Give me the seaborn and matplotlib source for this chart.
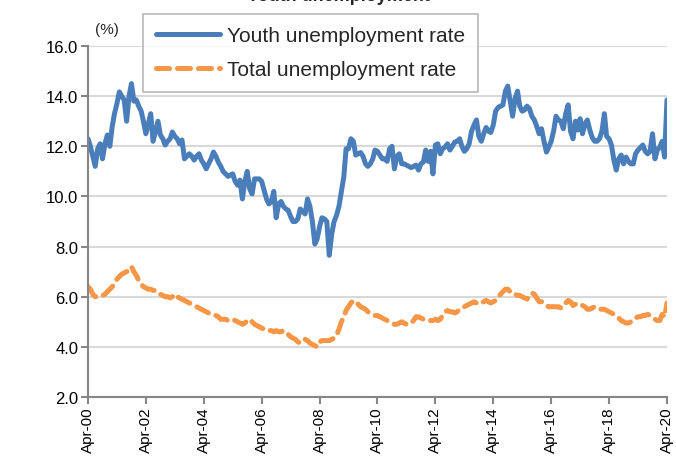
import pandas as pd
import numpy as np
import matplotlib
matplotlib.use("Agg")
import matplotlib.pyplot as plt
import matplotlib.dates as mdates
import seaborn as sns

# Monthly series, Apr-2000 .. Apr-2020 (one row per year, Apr..Mar)
youth = [
    12.3, 12.0, 11.6, 11.2, 11.9, 12.1, 11.5, 12.1, 12.45, 12.0, 12.8, 13.3,
    13.7, 14.17, 14.0, 13.85, 13.0, 14.0, 14.5, 13.8, 13.85, 13.6, 13.4, 13.0,
    12.5, 12.9, 13.3, 12.2, 12.6, 13.0, 12.45, 12.3, 12.05, 12.2, 12.3, 12.57,
    12.4, 12.3, 12.1, 12.25, 11.5, 11.6, 11.7, 11.6, 11.45, 11.6, 11.7, 11.45,
    11.3, 11.1, 11.3, 11.5, 11.77, 11.6, 11.37, 11.2, 11.0, 10.9, 10.8, 10.85,
    10.9, 10.6, 10.45, 10.65, 9.9, 10.6, 11.0, 10.3, 10.1, 10.7, 10.7, 10.7,
    10.6, 10.25, 9.9, 9.7, 9.8, 10.2, 9.15, 9.7, 9.8, 9.6, 9.5, 9.45,
    9.2, 9.0, 9.0, 9.1, 9.5, 9.4, 9.3, 9.9, 9.6, 9.0, 8.1, 8.3,
    8.8, 9.15, 9.1, 9.0, 7.65, 8.5, 9.0, 9.25, 9.6, 10.2, 10.8, 11.9,
    11.9, 12.3, 12.2, 11.65, 11.7, 11.75, 11.6, 11.3, 11.2, 11.3, 11.5, 11.85,
    11.8, 11.65, 11.5, 11.5, 11.4, 11.9, 12.0, 11.1, 11.6, 11.7, 11.3, 11.3,
    11.25, 11.2, 11.15, 11.2, 11.25, 11.05, 11.3, 11.37, 11.85, 11.4, 11.8, 10.9,
    12.05, 12.1, 11.7, 11.9, 11.97, 12.1, 11.85, 12.0, 12.17, 12.2, 12.3, 12.0,
    11.8, 11.9, 12.1, 12.6, 12.85, 13.05, 12.4, 12.2, 12.5, 12.75, 12.6, 12.55,
    12.85, 13.4, 13.55, 13.6, 13.65, 14.2, 14.4, 13.8, 13.2, 13.9, 14.2, 13.6,
    13.4, 13.45, 13.6, 13.5, 13.2, 13.05, 12.8, 12.5, 12.7, 12.2, 11.77, 11.97,
    12.2, 12.6, 13.2, 13.05, 13.0, 12.7, 13.3, 13.65, 12.6, 12.3, 13.0, 12.65,
    13.1, 12.5, 12.9, 13.05, 12.65, 12.35, 12.2, 12.2, 12.3, 12.6, 13.3, 12.4,
    12.3, 12.05, 11.45, 11.05, 11.5, 11.65, 11.3, 11.57, 11.4, 11.3, 11.3, 11.7,
    11.85, 11.95, 12.05, 11.8, 11.7, 11.8, 12.5, 11.5, 11.85, 11.97, 12.2, 11.57,
    13.85,
]

total = [
    6.4, 6.3, 6.1, 6.0, 6.0, 6.05, 6.05, 6.1, 6.2, 6.3, 6.4, 6.5,
    6.7, 6.8, 6.9, 6.95, 7.0, 7.05, 7.2, 7.0, 6.85, 6.65, 6.5, 6.4,
    6.35, 6.3, 6.3, 6.25, 6.25, 6.2, 6.1, 6.05, 6.0, 6.0, 5.95, 6.0,
    6.1, 6.0, 5.95, 5.9, 5.85, 5.8, 5.75, 5.7, 5.65, 5.6, 5.55, 5.5,
    5.45, 5.4, 5.35, 5.3, 5.25, 5.25, 5.2, 5.1, 5.1, 5.1, 5.05, 5.1,
    5.1, 5.05, 5.0, 4.95, 4.9, 4.95, 5.05, 5.1, 5.0, 4.9, 4.85, 4.8,
    4.75, 4.7, 4.7, 4.65, 4.65, 4.6, 4.65, 4.6, 4.6, 4.65, 4.6, 4.5,
    4.4, 4.35, 4.3, 4.2, 4.15, 4.2, 4.3, 4.25, 4.15, 4.1, 4.05, 4.0,
    4.2, 4.25, 4.25, 4.25, 4.25, 4.3, 4.35, 4.45, 4.7, 5.0, 5.2, 5.45,
    5.6, 5.75, 5.85, 5.8, 5.7, 5.6, 5.55, 5.5, 5.4, 5.35, 5.3, 5.25,
    5.25, 5.2, 5.15, 5.1, 5.05, 5.0, 4.95, 4.9, 4.9, 4.95, 5.0, 4.95,
    4.9, 4.9, 4.95, 5.05, 5.2, 5.2, 5.15, 5.1, 5.1, 5.05, 5.05, 5.05,
    5.1, 5.05, 5.1, 5.25, 5.4, 5.45, 5.4, 5.4, 5.35, 5.4, 5.5, 5.55,
    5.6, 5.65, 5.7, 5.75, 5.8, 5.75, 5.7, 5.75, 5.8, 5.85, 5.8, 5.75,
    5.8, 5.85, 5.95, 6.1, 6.2, 6.3, 6.3, 6.2, 6.1, 6.1, 6.05, 6.05,
    6.0, 5.95, 5.9, 6.05, 6.15, 6.1, 5.95, 5.8, 5.8, 5.7, 5.65, 5.6,
    5.6, 5.6, 5.6, 5.6, 5.55, 5.6, 5.75, 5.85, 5.8, 5.65, 5.7, 5.75,
    5.7, 5.65, 5.6, 5.5, 5.5, 5.55, 5.6, 5.55, 5.5, 5.5, 5.5, 5.45,
    5.4, 5.35, 5.3, 5.25, 5.15, 5.05, 5.0, 4.95, 4.95, 5.0, 5.05, 5.15,
    5.2, 5.2, 5.25, 5.25, 5.3, 5.25, 5.2, 5.1, 5.05, 5.05, 5.3, 5.2,
    5.75,
]

dates = pd.date_range("2000-04-01", "2020-04-01", freq="MS")
df = pd.DataFrame({"date": dates, "youth": youth, "total": total})

sns.set_style("white")
plt.rcParams["font.family"] = ["Liberation Sans", "DejaVu Sans"]

fig = plt.figure(figsize=(6.76, 4.77), dpi=100)
ax = fig.add_axes([88 / 676, 1 - 398 / 477, 579 / 676, 351 / 477])

blue = "#4a7ebb"
orange = "#f79646"

sns.lineplot(data=df, x="date", y="youth", ax=ax, color=blue, linewidth=3.6,
             label="Youth unemployment rate", solid_capstyle="round")
sns.lineplot(data=df, x="date", y="total", ax=ax, color=orange, linewidth=3.6,
             label="Total unemployment rate", dashes=False)
ln = ax.get_lines()[1]
ln.set_dashes([2.6, 1.6])
ln.set_dash_capstyle("round")

ax.set_ylim(2, 16)
ax.set_yticks(np.arange(2, 16.1, 2))
ax.set_yticklabels([f"{v:.1f}" for v in np.arange(2, 16.1, 2)], fontsize=12)
ax.set_xlim(pd.Timestamp("2000-04-01"), pd.Timestamp("2020-04-01"))
ax.xaxis.set_major_locator(mdates.MonthLocator(bymonth=4, interval=24))
ax.xaxis.set_major_formatter(mdates.DateFormatter("%b-%y"))
plt.setp(ax.get_xticklabels(), rotation=90, fontsize=11)
ax.set_xlabel("")
ax.set_ylabel("")

ax.yaxis.grid(True, color="#d9d9d9", linewidth=1.5)
ax.set_axisbelow(True)
for s in ["top", "right"]:
    ax.spines[s].set_visible(False)
for s in ["left", "bottom"]:
    ax.spines[s].set_color("#868686")
    ax.spines[s].set_linewidth(1.5)
ax.tick_params(axis="both", direction="out", length=5, width=1.5, color="#868686",
               labelcolor="black", pad=2, left=True, bottom=True)

fig.text(107 / 676, 1 - 30 / 477, "(%)", ha="center", va="center", fontsize=11)
fig.text(0.5, 1 - 1 / 477, "Youth unemployment", ha="center", va="baseline",
         fontsize=13, fontweight="bold")

leg = ax.legend(loc="upper left", bbox_to_anchor=(143 / 676, 1 - 15 / 477),
                bbox_transform=fig.transFigure, borderaxespad=0, frameon=True,
                fancybox=False, edgecolor="#a6a6a6", fontsize=15,
                handlelength=3.1, borderpad=0.6, labelspacing=0.7,
                handletextpad=0.35)
leg.get_frame().set_linewidth(1.2)
for h in leg.get_lines():
    h.set_linewidth(3.6)

fig.savefig("out.png", dpi=100)
